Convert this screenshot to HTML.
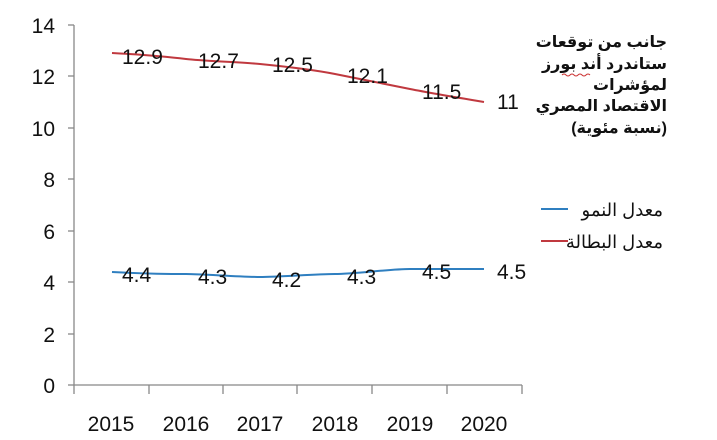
<!DOCTYPE html>
<html><head><meta charset="utf-8"><style>
body{margin:0;background:#fff;}
svg text{font-family:"Liberation Sans","DejaVu Sans",sans-serif;}
.ar{font-family:"DejaVu Sans","Liberation Sans",sans-serif;}
</style></head><body>
<svg width="717" height="435" xmlns="http://www.w3.org/2000/svg">
<g stroke="#888" stroke-width="1.3" fill="none">
<line x1="74" y1="25" x2="74" y2="385"/>
<line x1="74" y1="385" x2="522" y2="385"/>
<line x1="68" y1="25" x2="74" y2="25"/><line x1="68" y1="76" x2="74" y2="76"/>
<line x1="68" y1="128" x2="74" y2="128"/><line x1="68" y1="179" x2="74" y2="179"/>
<line x1="68" y1="231" x2="74" y2="231"/><line x1="68" y1="282" x2="74" y2="282"/>
<line x1="68" y1="334" x2="74" y2="334"/><line x1="68" y1="385" x2="74" y2="385"/>
<line x1="74" y1="385" x2="74" y2="394"/><line x1="149" y1="385" x2="149" y2="394"/>
<line x1="223" y1="385" x2="223" y2="394"/><line x1="297" y1="385" x2="297" y2="394"/>
<line x1="372" y1="385" x2="372" y2="394"/><line x1="447" y1="385" x2="447" y2="394"/>
<line x1="522" y1="385" x2="522" y2="394"/>
</g>
<g font-size="21" fill="#111" text-anchor="end">
<text x="55" y="33">14</text><text x="55" y="84">12</text><text x="55" y="136">10</text>
<text x="55" y="187">8</text><text x="55" y="239">6</text><text x="55" y="290">4</text>
<text x="55" y="342">2</text><text x="55" y="393">0</text>
</g>
<g font-size="21" fill="#111" text-anchor="middle">
<text x="111" y="431">2015</text><text x="186" y="431">2016</text><text x="260" y="431">2017</text>
<text x="335" y="431">2018</text><text x="410" y="431">2019</text><text x="484" y="431">2020</text>
</g>
<path d="M112,53 C150,55 170,57 186,59 S240,62 260,64 S315,70 335,74 S390,85 410,89 S460,98 484,102" stroke="#c0393f" stroke-width="2" fill="none"/>
<path d="M112,272 C150,274 170,274 186,274 S240,277 260,277 S315,274 335,274 S390,269 410,269 L484,269" stroke="#2f7fc0" stroke-width="2" fill="none"/>
<g font-size="21" fill="#111">
<text x="122" y="64">12.9</text><text x="198" y="68">12.7</text><text x="272" y="72">12.5</text>
<text x="347" y="83">12.1</text><text x="422" y="99">11.5</text><text x="497" y="109">11</text>
<text x="122" y="282">4.4</text><text x="198" y="284">4.3</text><text x="272" y="287">4.2</text>
<text x="347" y="284">4.3</text><text x="422" y="279">4.5</text><text x="497" y="279">4.5</text>
</g>
<g class="ar" font-size="16" font-weight="bold" fill="#111" text-anchor="end">
<text x="667" y="47">جانب من توقعات</text>
<text x="667" y="69">ستاندرد أند بورز</text>
<text x="667" y="90">لمؤشرات</text>
<text x="667" y="111">الاقتصاد المصري</text>
<text x="667" y="133">(نسبة مئوية)</text>
</g>
<path d="M562,75 q2,-2 4,0 t4,0 t4,0 t4,0 t4,0 t4,0 t4,0" stroke="#c33" stroke-width="1" fill="none"/>
<line x1="541" y1="209" x2="568" y2="209" stroke="#2f7fc0" stroke-width="2"/>
<line x1="541" y1="241" x2="568" y2="241" stroke="#c0393f" stroke-width="2"/>
<g class="ar" font-size="18" fill="#111" text-anchor="end">
<text x="663" y="216">معدل النمو</text>
<text x="663" y="248">معدل البطالة</text>
</g>
</svg>
</body></html>
